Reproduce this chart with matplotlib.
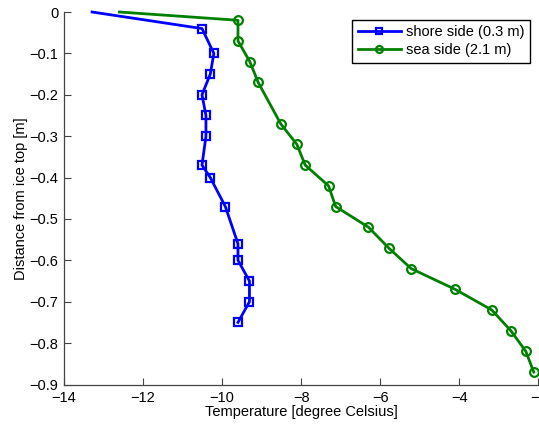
import matplotlib
matplotlib.use("Agg")
import matplotlib.pyplot as plt

plt.rcParams['font.family'] = ['Liberation Sans', 'DejaVu Sans']

# Ice temperature profiles: depth below ice top [m] vs temperature [degC]
shore_depth = [0.0, -0.04, -0.10, -0.15, -0.20, -0.25, -0.30, -0.37, -0.40,
               -0.47, -0.56, -0.60, -0.65, -0.70, -0.75]
shore_temp = [-13.29, -10.51, -10.21, -10.30, -10.51, -10.41, -10.41, -10.51,
              -10.30, -9.92, -9.60, -9.60, -9.31, -9.31, -9.60]

sea_depth = [0.0, -0.02, -0.07, -0.12, -0.17, -0.27, -0.32, -0.37, -0.42,
             -0.47, -0.52, -0.57, -0.62, -0.67, -0.72, -0.77, -0.82, -0.87]
sea_temp = [-12.60, -9.60, -9.60, -9.30, -9.09, -8.52, -8.11, -7.90, -7.31,
            -7.13, -6.30, -5.79, -5.22, -4.11, -3.18, -2.70, -2.32, -2.12]

labels = ["shore side (0.3 m)", "sea side (2.1 m)"]
x_ticks = [-14, -12, -10, -8, -6, -4, -2]
y_ticks = [0, -0.1, -0.2, -0.3, -0.4, -0.5, -0.6, -0.7, -0.8, -0.9]

FS = 10.5
W, H = 539, 424
fig = plt.figure(figsize=(W / 100, H / 100), dpi=100)
ax = fig.add_axes([64 / W, (H - 384.5) / H, (538.5 - 64) / W, (384.5 - 12) / H])

ax.plot(shore_temp, shore_depth, color='#0000ff', lw=2.0, marker='s',
        markersize=5.3, markerfacecolor='none', markeredgewidth=1.6,
        markevery=list(range(1, len(shore_temp))), label=labels[0], clip_on=False)
ax.plot(sea_temp, sea_depth, color='#008000', lw=2.0, marker='o',
        markersize=6.3, markerfacecolor='none', markeredgewidth=1.6,
        markevery=list(range(1, len(sea_temp))), label=labels[1], clip_on=False)

ax.set_xlim(-14, -2)
ax.set_ylim(-0.9, 0)
ax.set_xticks(x_ticks)
ax.set_yticks(y_ticks)
ax.set_yticklabels(['0'] + ['\u2212%.1f' % abs(v) for v in y_ticks[1:]])

for side in ('top', 'right'):
    ax.spines[side].set_visible(False)
for side in ('left', 'bottom'):
    ax.spines[side].set_color('#444444')
    ax.spines[side].set_linewidth(0.9)

ax.tick_params(direction='in', length=5, width=0.8, color='#444444',
               labelsize=FS, pad=4)
ax.tick_params(axis='x', pad=5)

ax.set_xlabel('Temperature [degree Celsius]', fontsize=FS, labelpad=0)
ax.set_ylabel('Distance from ice top [m]', fontsize=FS, labelpad=1)

leg = ax.legend(loc='upper right',
                bbox_to_anchor=((530 - 64) / (538.5 - 64), (384.5 - 20) / (384.5 - 12)),
                fontsize=FS, frameon=True, fancybox=False, framealpha=1,
                edgecolor='black', handlelength=2.95, borderpad=0.35,
                labelspacing=0.3, handletextpad=0.4, borderaxespad=0,
                markerscale=0.8)
leg.get_frame().set_linewidth(1.0)

fig.savefig('out.png', dpi=100)
